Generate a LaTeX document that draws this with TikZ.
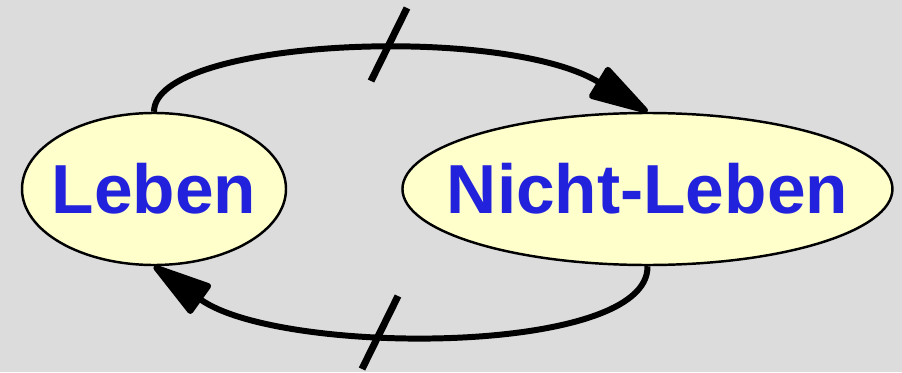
\documentclass[tikz,border=0pt]{standalone}
\usepackage{fontspec}
\setmainfont{Liberation Sans}
\usepackage{xcolor}
\usetikzlibrary{positioning,shapes.geometric,arrows.meta}
\definecolor{bgrey}{RGB}{220,220,220}
\definecolor{paleyellow}{RGB}{255,255,204}
\definecolor{wordblue}{RGB}{34,34,221}

\begin{document}
\begin{tikzpicture}[
  state/.style={ellipse, draw, line width=1.4pt, fill=paleyellow, inner sep=0pt,
    minimum height=3.04cm, text=wordblue, font=\fontsize{39.5}{42}\selectfont\bfseries},
  flow/.style={line width=3.4pt, -{Triangle[length=38pt,width=21pt,round]}},
  strike/.style={line width=4pt}
]
\fill[bgrey] (0,0) rectangle (18.04,7.44);
\useasboundingbox (0,0) rectangle (18.04,7.44);
\node[state, minimum width=5.28cm] (leben) at (3.08,3.66) {\makebox[0pt]{Leben}};
\node[state, minimum width=9.8cm, right=2.28cm of leben] (nicht) {\makebox[0pt]{Nicht-Leben}};
\draw[flow] (leben.north) .. controls +(0,1.46) and +(-2.9,1.76) .. (nicht.north);
\draw[flow] (nicht.south) .. controls +(0.04,-1.8) and +(2.52,-1.8) .. (leben.south);
% Unterbrechungen
\coordinate (cut top) at (7.78,6.55);
\coordinate (cut bot) at (7.60,0.79);
\draw[strike] (cut top) ++(-0.36,-0.73) -- ++(0.72,1.46);
\draw[strike] (cut bot) ++(-0.36,-0.73) -- ++(0.72,1.46);
\end{tikzpicture}
\end{document}
